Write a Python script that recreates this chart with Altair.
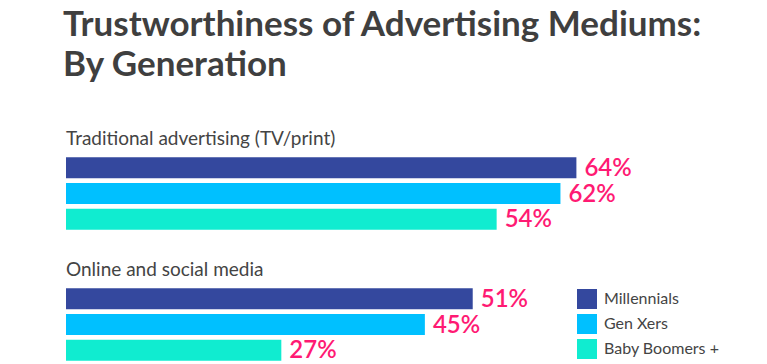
import altair as alt
import pandas as pd

categories = ["Traditional advertising (TV/print)", "Online and social media"]
generations = ["Millennials", "Gen Xers", "Baby Boomers +"]
traditional = [64, 62, 54]
online = [51, 45, 27]
colors = ["#34489e", "#00c0ff", "#10ecd0"]

series = {categories[0]: traditional, categories[1]: online}


def panel(cat):
    df = pd.DataFrame({
        "generation": generations,
        "value": series[cat],
        "label": [f"{v}%" for v in series[cat]],
    })
    base = alt.Chart(df).encode(
        y=alt.Y("generation:N", sort=generations, axis=None,
                scale=alt.Scale(paddingInner=0.18, paddingOuter=0.09)),
    )
    bars = base.mark_bar(stroke=None).encode(
        x=alt.X("value:Q", axis=None, scale=alt.Scale(domain=[0, 80])),
        color=alt.Color(
            "generation:N",
            sort=generations,
            scale=alt.Scale(domain=generations, range=colors),
            legend=alt.Legend(
                title=None,
                orient="none",
                legendX=511,
                legendY=134,
                symbolType="square",
                symbolSize=400,
                symbolStrokeWidth=0,
                symbolOpacity=1,
                labelFont="Lato",
                labelFontSize=16,
                labelColor="#444444",
                labelOffset=7,
                rowPadding=5,
                padding=0,
            ),
        ),
    )
    labels = base.mark_text(
        align="left", baseline="middle", dx=8, dy=1,
        font="Lato", fontSize=24, fontWeight=600, color="#ff1a73",
    ).encode(
        x=alt.X("value:Q", scale=alt.Scale(domain=[0, 80])),
        text="label:N",
    )
    return alt.layer(bars, labels).properties(
        width=638, height=77,
        title=alt.TitleParams(
            cat, anchor="start", font="Lato", fontSize=19,
            fontWeight="normal", color="#444444", offset=6,
        ),
    )


chart = alt.vconcat(panel(categories[0]), panel(categories[1]), spacing=28).properties(
    title=alt.TitleParams(
        ["Trustworthiness of Advertising Mediums:", "By Generation"],
        anchor="start", font="Lato", fontSize=35, fontWeight="bold",
        color="#3f3f3f", lineHeight=40, offset=47, dx=-3,
    ),
    padding={"left": 55, "top": 0, "right": 0, "bottom": 0},
).configure_view(stroke=None)

chart.save("out.html", embed_options={"renderer": "svg", "actions": False})
